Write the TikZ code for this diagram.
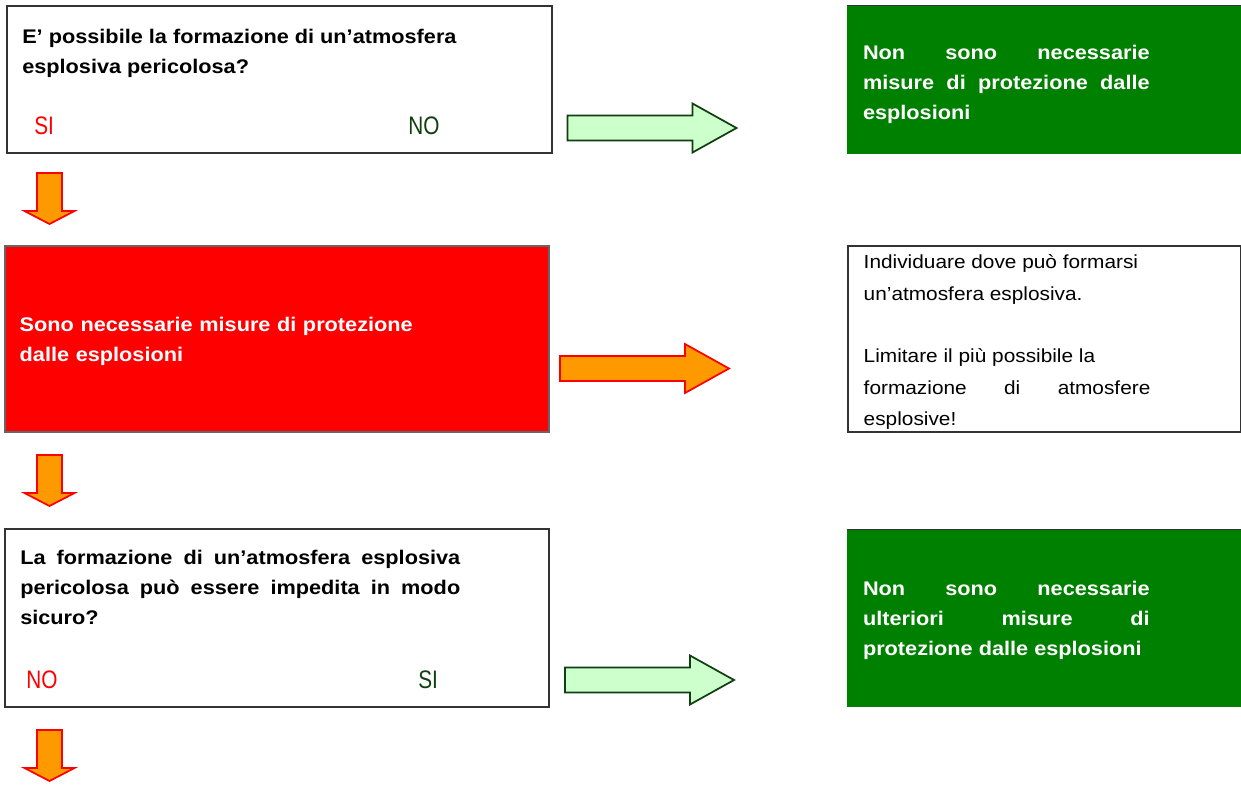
\documentclass[tikz,border=0pt]{standalone}
\usepackage{fontspec}
\setmainfont{Liberation Sans}[FakeStretch=1.1]
\newfontfamily\stretta{Liberation Sans}[FakeStretch=0.82]
\usepackage{xcolor}
\usepackage{tikz}
\usetikzlibrary{
    positioning,
    fit
}

\definecolor{verde}{HTML}{008000}
\definecolor{verdechiaro}{HTML}{CCFFCC}
\definecolor{verdescuro}{HTML}{0F3F0F}
\definecolor{rosso}{HTML}{FF0000}
\definecolor{arancio}{HTML}{FF9900}

\tikzset{
    freccia/.pic={\draw[pic actions] (0,-12.5) -- (125,-12.5) -- (125,-24.5) -- (169,0) -- (125,24.5) -- (125,12.5) -- (0,12.5) -- cycle;},
    giu/.pic={\draw[pic actions] (-12.5,0) -- (12.5,0) -- (12.5,38) -- (25,38) -- (0,51) -- (-25,38) -- (-12.5,38) -- cycle;}
}

\begin{document}
\begin{tikzpicture}[x=0.75pt,y=-0.75pt,inner sep=0pt]
    \tikzstyle{domanda}=[draw=black!80, line width=0.8pt, fill=white]
    \tikzstyle{esito}=[fill=verde]
    \tikzstyle{allarme}=[draw=black!60, line width=0.8pt, fill=rosso]
    \tikzstyle{nota}=[draw=black!80, line width=0.8pt]
    \tikzstyle{testo}=[font=\fontsize{14.8}{22.5}\selectfont\bfseries, align=justify, anchor=north west]
    \tikzstyle{bianco}=[font=\fontsize{14.8}{22.5}\selectfont\bfseries, text=white, align=justify, anchor=west]
    \tikzstyle{risposta}=[font=\stretta\fontsize{19}{22}\selectfont, anchor=base west]
    \tikzstyle{frecciasi}=[fill=verdechiaro, draw=verdescuro, line width=1.3pt]
    \tikzstyle{frecciano}=[fill=arancio, draw=rosso, line width=1.3pt]

    \useasboundingbox (0,0) rectangle (1241,801);

    % prima domanda
    \node[domanda, fit={(7,6) (552,153)}] (d1) {};
    \node[testo, text width=330pt] (d1t) at (22,29) {E’ possibile la formazione di un’atmosfera\\ esplosiva pericolosa?};
    \node[risposta, text=rosso] (d1si) at (34,134.5) {SI};
    \node[risposta, text=verdescuro] (d1no) at (408,134.5) {NO};
    \pic[frecciasi] (fs1) at (567.5,128) {freccia};
    \node[esito, fit={(847,6) (1241,154)}] (e1) {};
    \draw[black!80, line width=0.8pt] (e1.north west) -- (e1.north east);
    \node[bianco, text width=215pt] (e1t) at ([shift={(16,4)}]e1.west) {Non sono necessarie\linebreak misure di protezione dalle\linebreak esplosioni};
    \pic[frecciano] (g1) at (49.5,173) {giu};

    % misure necessarie
    \node[allarme, fit={(5,246) (549,432)}] (a1) {};
    \node[bianco, text width=330pt, align=left] (a1t) at ([shift={(15,2)}]a1.west) {Sono necessarie misure di protezione\\ dalle esplosioni};
    \pic[frecciano] (fn1) at (560,368.5) {freccia};
    \node[nota, fit={(848,246) (1240.5,432)}] (n1) {};
    \node[testo, font=\fontsize{14.2}{23.5}\selectfont, anchor=west, text width=215pt] (n1t) at ([shift={(16,3)}]n1.west) {Individuare dove può formarsi\\ un’atmosfera esplosiva.\\[23.5pt] Limitare il più possibile la\\ formazione di atmosfere\linebreak esplosive!};
    \pic[frecciano] (g2) at (49.5,455) {giu};

    % seconda domanda
    \node[domanda, fit={(5,529) (549,707)}] (d2) {};
    \node[testo, text width=330pt] (d2t) at (20,550) {La formazione di un’atmosfera esplosiva\linebreak pericolosa può essere impedita in modo\linebreak sicuro?};
    \node[risposta, text=rosso] (d2no) at (26,688) {NO};
    \node[risposta, text=verdescuro] (d2si) at (418,688) {SI};
    \pic[frecciasi] (fs2) at (565,680) {freccia};
    \node[esito, fit={(847,530) (1241,707)}] (e2) {};
    \draw[black!80, line width=0.8pt] (e2.north west) -- (e2.north east);
    \node[bianco, text width=215pt] (e2t) at ([shift={(16,2)}]e2.west) {Non sono necessarie\linebreak ulteriori misure di\linebreak protezione dalle esplosioni};
    \pic[frecciano] (g3) at (49.5,730) {giu};
\end{tikzpicture}
\end{document}
